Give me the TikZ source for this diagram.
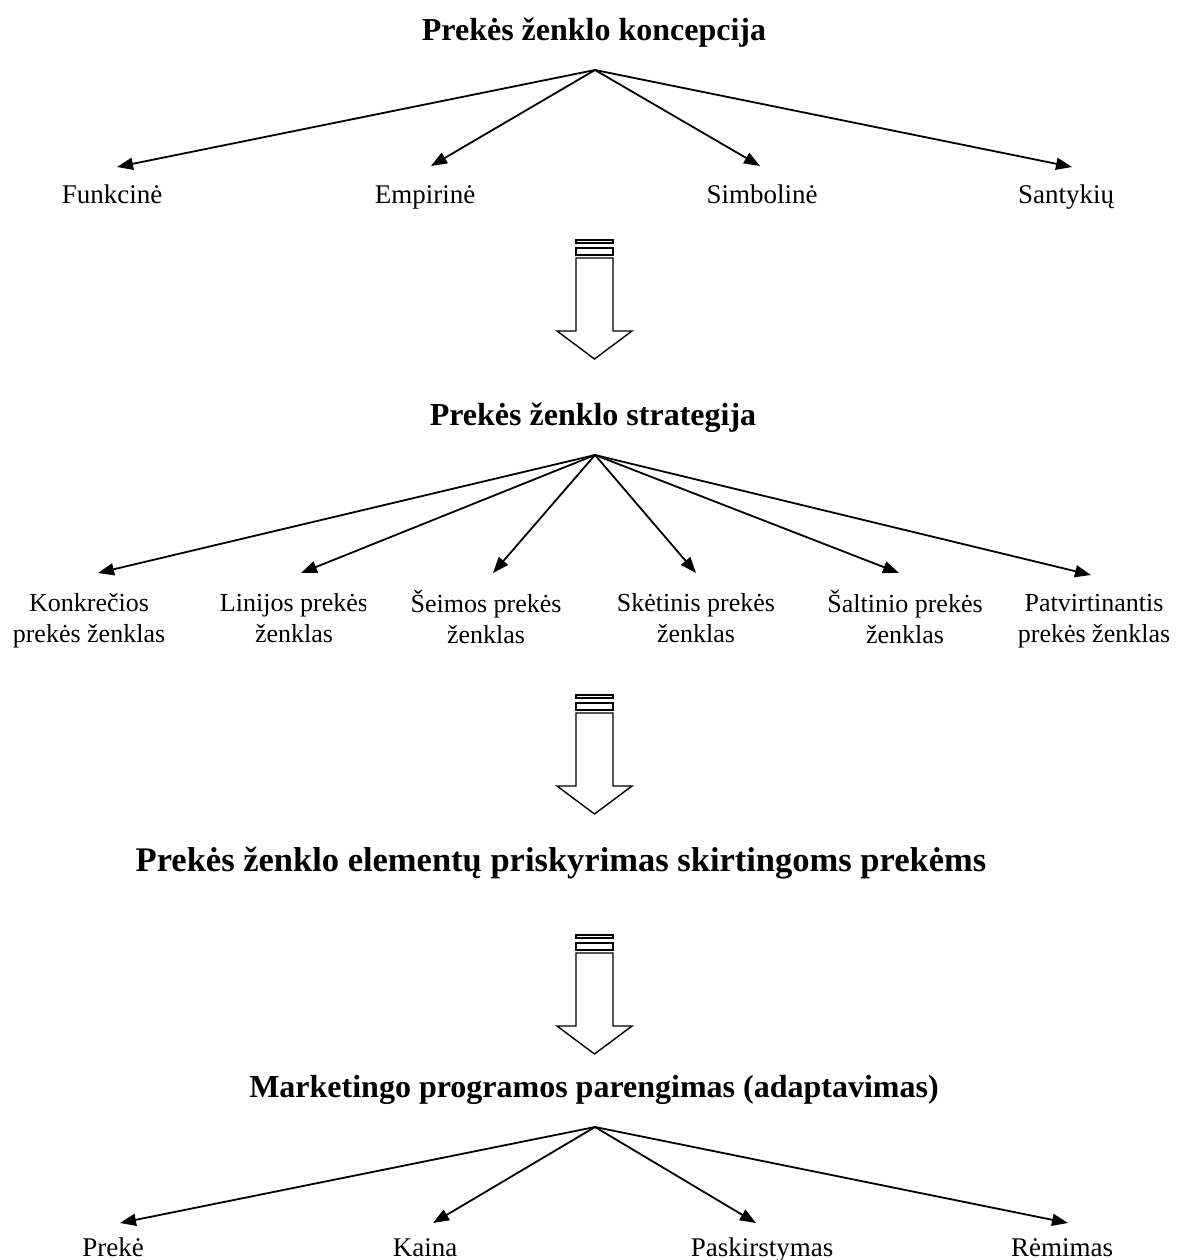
\documentclass[tikz,border=0pt]{standalone}
\usepackage{fontspec}
\setmainfont{Liberation Serif}
\usetikzlibrary{arrows.meta}
\tikzset{
  ttl/.style={anchor=base, inner sep=0pt, font=\fontsize{32}{38}\selectfont\bfseries},
  lbl/.style={anchor=base, inner sep=0pt, font=\fontsize{27}{31}\selectfont},
  lbl2/.style={anchor=north, inner sep=0pt, align=center, font=\fontsize{26}{31}\selectfont},
  conn/.style={line width=1.8pt, -{Triangle[length=16pt,width=12pt]}},
  blk/.style={line width=1.4pt, fill=white, line join=miter}
}
\begin{document}
\begin{tikzpicture}[x=1pt,y=-1pt]
\useasboundingbox (0,0) rectangle (1180,1260);
% ---------- Level 1
\node[ttl] (t1) at (594,41) {Prekės ženklo koncepcija};
\coordinate (h1) at (595,70);
\coordinate (a1) at (117,167);
\coordinate (a2) at (431,166);
\coordinate (a3) at (760,166);
\coordinate (a4) at (1072,167);
\node[lbl] (l1) at (112,204) {Funkcinė};
\node[lbl] (l2) at (425,204) {Empirinė};
\node[lbl] (l3) at (762,204) {Simbolinė};
\node[lbl] (l4) at (1066,204) {Santykių};
\foreach \t in {a1,a2,a3,a4} \draw[conn] (h1) -- (\t);
% block arrow 1
\begin{scope}[shift={(0,240)}]
\draw[blk] (576,0) rectangle (613,3);
\draw[blk] (576,8) rectangle (613,15);
\draw[blk] (576,18) -- (576,91) -- (557,91) -- (594.5,119) -- (632,91) -- (613,91) -- (613,18) -- cycle;
\end{scope}
% ---------- Level 2
\node[ttl] (t2) at (593,425) {Prekės ženklo strategija};
\coordinate (h2) at (595,455);
\coordinate (b1) at (98,573);
\coordinate (b2) at (301,573);
\coordinate (b3) at (493,573);
\coordinate (b4) at (696,573);
\coordinate (b5) at (899,573);
\coordinate (b6) at (1091,575);
\foreach \t in {b1,b2,b3,b4,b5,b6} \draw[conn] (h2) -- (\t);
\node[lbl2] (m1) at (89,590) {\strut Konkrečios\\\strut prekės ženklas};
\begin{scope}
\clip (190,580) rectangle (365,660);
\node[lbl2] (m2) at (294,590) {\strut Linijos prekės\\\strut ženklas};
\end{scope}
\node[lbl2] (m3) at (486,590) {\strut Šeimos prekės\\\strut ženklas};
\node[lbl2] (m4) at (696,590) {\strut Skėtinis prekės\\\strut ženklas};
\node[lbl2] (m5) at (905,590) {\strut Šaltinio prekės\\\strut ženklas};
\node[lbl2] (m6) at (1094,590) {\strut Patvirtinantis\\\strut prekės ženklas};
% block arrow 2
\begin{scope}[shift={(0,695)}]
\draw[blk] (576,0) rectangle (613,3);
\draw[blk] (576,8) rectangle (613,15);
\draw[blk] (576,18) -- (576,91) -- (557,91) -- (594.5,119) -- (632,91) -- (613,91) -- (613,18) -- cycle;
\end{scope}
% ---------- Level 3
\node[ttl, font=\fontsize{34.5}{40}\selectfont\bfseries] (t3) at (561,871) {Prekės ženklo elementų priskyrimas skirtingoms prekėms};
% block arrow 3
\begin{scope}[shift={(0,935)}]
\draw[blk] (576,0) rectangle (613,3);
\draw[blk] (576,8) rectangle (613,15);
\draw[blk] (576,18) -- (576,91) -- (557,91) -- (594.5,119) -- (632,91) -- (613,91) -- (613,18) -- cycle;
\end{scope}
% ---------- Level 4
\node[ttl] (t4) at (594,1097) {Marketingo programos parengimas (adaptavimas)};
\coordinate (h4) at (595,1127);
\coordinate (c1) at (120,1223);
\coordinate (c2) at (433,1223);
\coordinate (c3) at (756,1223);
\coordinate (c4) at (1068,1223);
\foreach \t in {c1,c2,c3,c4} \draw[conn] (h4) -- (\t);
\node[lbl] (n1) at (113,1256) {Prekė};
\node[lbl] (n2) at (425,1256) {Kaina};
\node[lbl] (n3) at (762,1256) {Paskirstymas};
\node[lbl] (n4) at (1062,1256) {Rėmimas};
\end{tikzpicture}
\end{document}
